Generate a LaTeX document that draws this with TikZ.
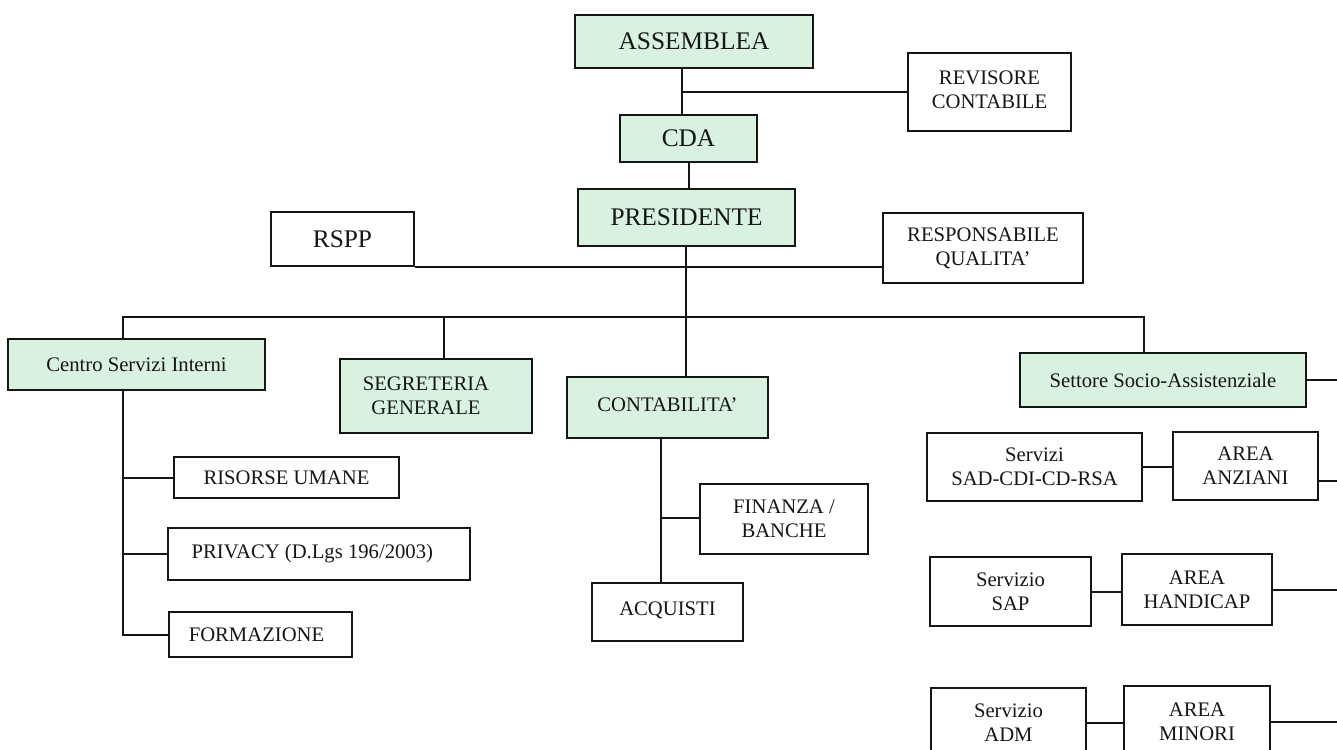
\documentclass[tikz,border=0pt]{standalone}
\usepackage{fontspec}
\setmainfont{Liberation Serif}
\definecolor{boxgreen}{RGB}{217,241,223}
\definecolor{ink}{RGB}{22,22,22}
\begin{document}
\begin{tikzpicture}[x=0.75pt,y=-0.75pt,
  box/.style={draw=ink, line width=1.3pt, inner sep=0pt, align=center, text=ink,
              font=\fontsize{15.5}{18}\selectfont},
  grn/.style={box, fill=boxgreen},
  big/.style={font=\fontsize{19}{22}\selectfont},
  sz/.style 2 args={minimum width=#1*0.75pt, minimum height=#2*0.75pt},
  link/.style={draw=ink, line width=1.5pt}]
\useasboundingbox[fill=white] (0,0) rectangle (1337,749);

% top
\node[grn, big, sz={238}{53}] (assemblea) at (694,41.5) {ASSEMBLEA};
\node[box, sz={163}{78}] (revisore) at (989.5,92) {\raisebox{3pt}{REVISORE}\\\raisebox{3pt}{CONTABILE}};
\node[grn, big, sz={137}{47}] (cda) at (688.5,138.5) {CDA};
\node[grn, big, sz={217}{57}] (presidente) at (686.5,217.5) {PRESIDENTE};
\node[box, big, sz={143}{54}] (rspp) at (342.5,239) {RSPP};
\node[box, sz={200}{70}] (resp) at (983,248) {RESPONSABILE\\QUALITA'};

% second level
\node[grn, sz={257}{51}] (centro) at (136.5,364.5) {Centro Servizi Interni};
\node[grn, sz={192}{74}] (segr) at (436,396) {SEGRETERIA\hspace*{15pt}\\GENERALE\hspace*{15pt}};
\node[grn, sz={201}{61}] (conta) at (667.5,407.5) {\raisebox{5pt}{CONTABILITA'}};
\node[grn, sz={286}{54}] (settore) at (1163,380) {Settore Socio-Assistenziale};

% left column
\node[box, sz={225}{41}] (risorse) at (286.5,477.5) {RISORSE UMANE};
\node[box, sz={302}{52}] (privacy) at (319,554) {PRIVACY (D.Lgs 196/2003)\hspace*{10pt}};
\node[box, sz={183}{45}] (formazione) at (260.5,634.5) {FORMAZIONE\hspace*{6pt}};

% contabilita column
\node[box, sz={168}{70}] (finanza) at (784,519) {FINANZA /\\BANCHE};
\node[box, sz={151}{58}] (acquisti) at (667.5,612) {\raisebox{5pt}{ACQUISTI}};

% right column
\node[box, sz={215}{68}] (sad) at (1034.5,467) {Servizi\\SAD-CDI-CD-RSA};
\node[box, sz={145}{68}] (anziani) at (1245.5,466) {AREA\\ANZIANI};
\node[box, sz={161}{69}] (sap) at (1010.5,591.5) {Servizio\\SAP};
\node[box, sz={150}{71}] (handicap) at (1197,589.5) {AREA\\HANDICAP};
\node[box, sz={155}{69}] (adm) at (1008.5,722.5) {Servizio\\ADM};
\node[box, sz={146}{71}] (minori) at (1197,721.5) {AREA\\MINORI};

% junction coordinates
\coordinate (j1) at (682,92);
\coordinate (bl) at (123,317);
\coordinate (bs) at (444,317);
\coordinate (bm) at (686,317);
\coordinate (br) at (1144,317);
\coordinate (cl) at (123,637);
\coordinate (ca) at (661,518);
\coordinate (rr) at (1340,377);

% connectors
\draw[link] (assemblea.south -| j1) -- (cda.north -| j1);
\draw[link] (j1) -- (revisore.west |- j1);
\draw[link] (cda.south) -- (cda.south |- presidente.north);
\draw[link] (presidente.south -| bm) -- (conta.north -| bm);
\draw[link] (rspp.south east) -- (resp.west |- rspp.south east);
\draw[link] (centro.north -| bl) -- (bl) -- (br) -- (settore.north -| br);
\draw[link] (bs) -- (segr.north -| bs);
\draw[link] (centro.south -| cl) |- (formazione.west);
\draw[link] (risorse.west) -- (risorse.west -| cl);
\draw[link] (privacy.west) -- (privacy.west -| cl);
\draw[link] (conta.south -| ca) -- (acquisti.north -| ca);
\draw[link] (ca) -- (finanza.west |- ca);
\draw[link] (sad.east) -- (sad.east -| anziani.west);
\draw[link] (sap.east) -- (sap.east -| handicap.west);
\draw[link] (adm.east) -- (adm.east -| minori.west);
\draw[link] (settore.east) -- (settore.east -| rr) -- (rr |- minori.east) -- (minori.east);
\draw[link] ([yshift=-11.25pt]anziani.east) -- ([yshift=-11.25pt]anziani.east -| rr);
\draw[link] (handicap.east) -- (handicap.east -| rr);
\end{tikzpicture}
\end{document}
